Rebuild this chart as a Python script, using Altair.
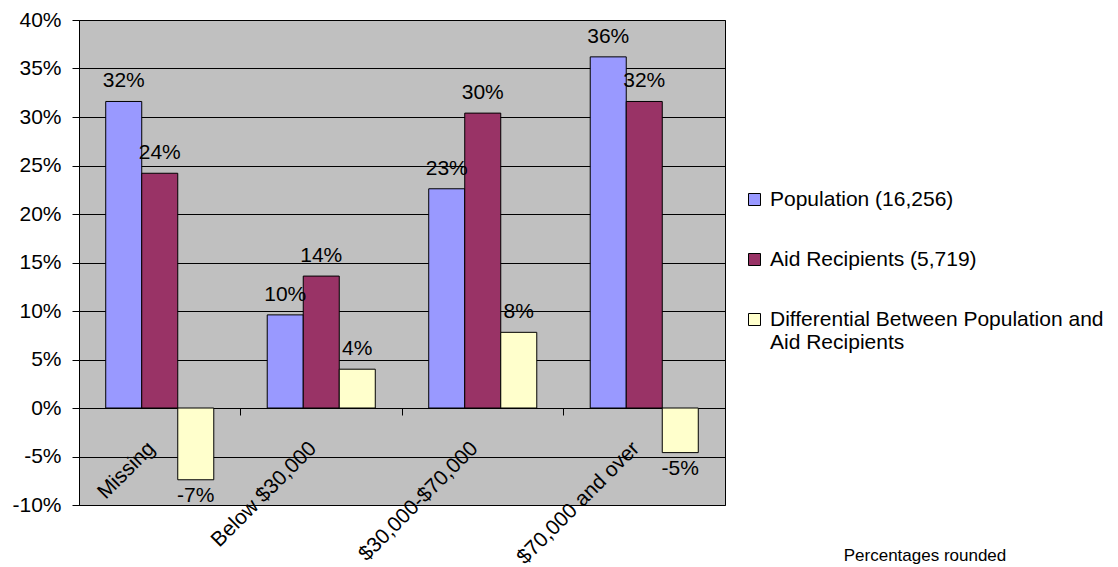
import altair as alt
import pandas as pd

categories = ["Missing", "Below $30,000", "$30,000-$70,000", "$70,000 and over"]
series = ["Population (16,256)", "Aid Recipients (5,719)",
          "Differential Between Population and Aid Recipients"]
population = [31.6, 9.6, 22.6, 36.2]
aid = [24.2, 13.6, 30.4, 31.6]
differential = [-7.4, 4.0, 7.8, -4.6]
colors = ["#9999FF", "#993366", "#FFFFCC"]
y_ticks = [-10, -5, 0, 5, 10, 15, 20, 25, 30, 35, 40]
note = ["Percentages rounded"]

rows = []
for s, vals in zip(series, [population, aid, differential]):
    for c, v in zip(categories, vals):
        rows.append({"category": c, "series": s, "value": v})
df = pd.DataFrame(rows)

W, H = 646, 485
FONT = "Liberation Sans"
FS = 21

x = alt.X(
    "category:N", sort=categories,
    scale=alt.Scale(paddingInner=0.331, paddingOuter=0.1655),
    axis=alt.Axis(title=None, labelAngle=-45, labelAlign="right", labelBaseline="middle",
                  labelPadding=30, labelOffset=-8, offset=-97, bandPosition=1.248,
                  domainColor="black", tickColor="black", tickSize=7, grid=False,
                  labelFontSize=FS, labelColor="black", labelFont=FONT),
)
xo = alt.XOffset("series:N", sort=series, scale=alt.Scale(paddingInner=0, paddingOuter=0))
y = alt.Y(
    "value:Q", stack=None,
    scale=alt.Scale(domain=[-10, 40], nice=False, zero=False),
    axis=alt.Axis(title=None, values=y_ticks, labelExpr="datum.value + '%'",
                  gridColor="black", gridOpacity=1, gridWidth=1,
                  domainColor="black", tickColor="black", tickSize=7, labelPadding=11,
                  labelFontSize=FS, labelColor="black", labelFont=FONT),
)
color = alt.Color(
    "series:N", sort=series,
    scale=alt.Scale(domain=series, range=colors),
    legend=alt.Legend(
        title=None, orient="none", legendX=665, legendY=169,
        symbolType="square", symbolSize=144, symbolStrokeColor="black",
        symbolStrokeWidth=1, symbolOpacity=1, labelFontSize=FS, labelFont=FONT,
        labelColor="black", labelLimit=500, labelOffset=5, rowPadding=38, padding=0,
        labelExpr="datum.label == 'Differential Between Population and Aid Recipients' ? "
                  "['Differential Between Population and', 'Aid Recipients'] : datum.label",
    ),
)

base = alt.Chart(df)
bars = base.mark_bar(stroke="black", strokeWidth=1, opacity=1).encode(
    x=x, xOffset=xo, y=y, color=color)

lab = base.transform_calculate(lbl="round(datum.value) + '%'")
pos_labels = lab.transform_filter("datum.value >= 0").mark_text(
    font=FONT, fontSize=FS, color="black", baseline="middle", dy=-20).encode(
    x=alt.X("category:N", sort=categories), xOffset=alt.XOffset("series:N", sort=series),
    y="value:Q", text="lbl:N")
neg_labels = lab.transform_filter("datum.value < 0").mark_text(
    font=FONT, fontSize=FS, color="black", baseline="middle", dy=16).encode(
    x=alt.X("category:N", sort=categories), xOffset=alt.XOffset("series:N", sort=series),
    y="value:Q", text="lbl:N")

note_layer = alt.Chart(pd.DataFrame({"note": note})).mark_text(
    font=FONT, fontSize=17, color="black", align="center", baseline="alphabetic").encode(
    text="note:N", x=alt.value(925 - 79), y=alt.value(561 - 20))

chart = alt.layer(bars, pos_labels, neg_labels, note_layer).properties(
    width=W, height=H,
    autosize=alt.AutoSizeParams(type="none"),
    padding={"left": 79, "top": 20, "right": 1118 - 79 - W, "bottom": 567 - 20 - H},
    background="white",
).configure_view(fill="#C0C0C0", stroke="black", strokeWidth=1)

chart.save("out.html", embed_options={"renderer": "svg", "actions": False})
